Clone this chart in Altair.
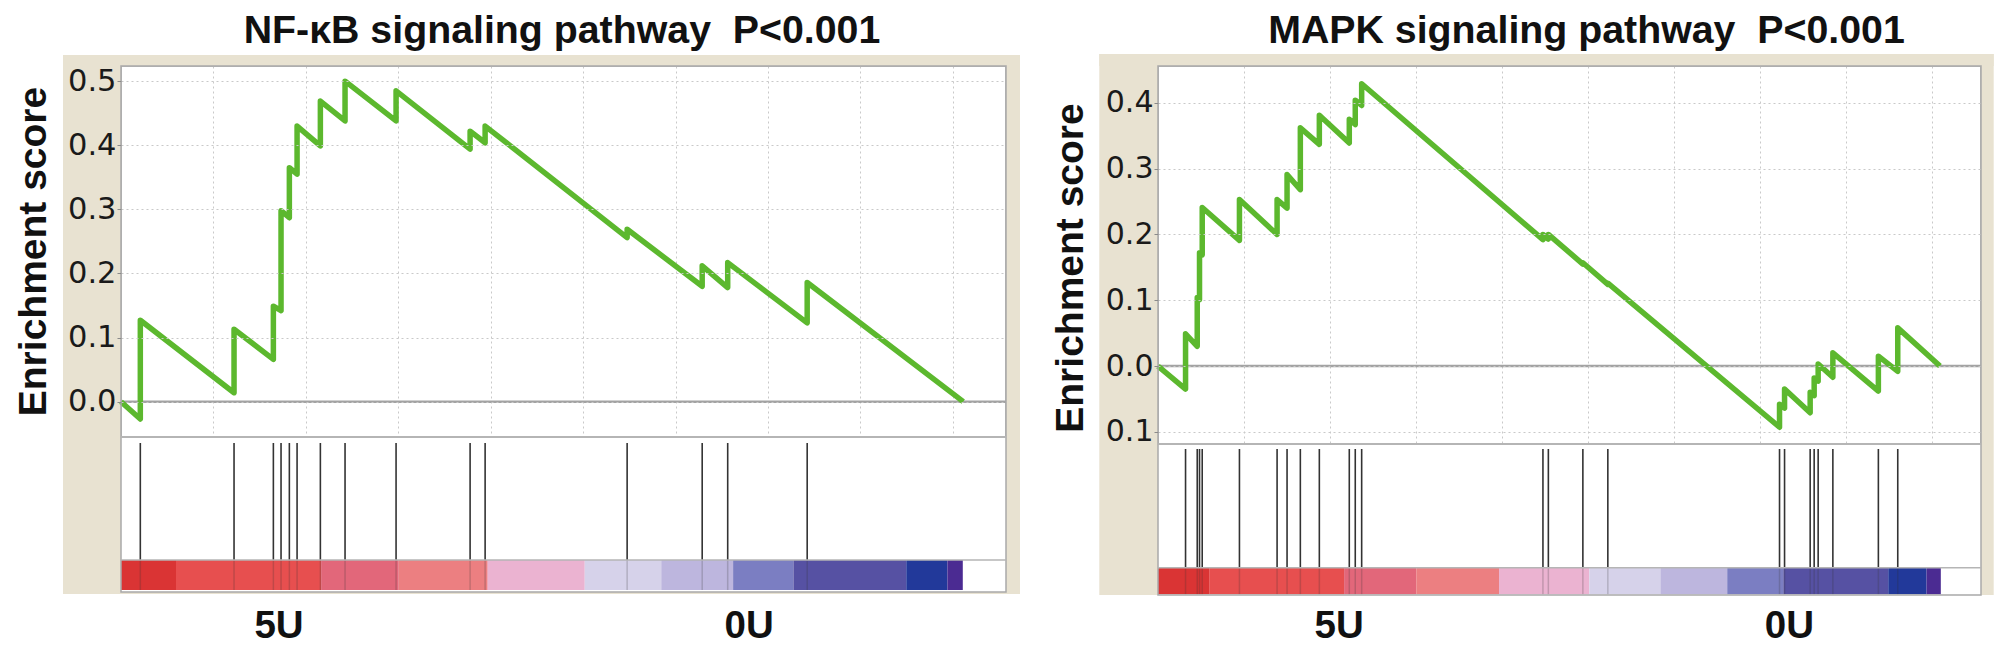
import altair as alt
import pandas as pd

# ------------------------------------------------------------------ data
nf_title = "NF-κB signaling pathway \u00a0P<0.001"
mk_title = "MAPK signaling pathway \u00a0P<0.001"

# gene ranks of the pathway hits and running enrichment score just before / after each hit
nf_hits = [418, 2446, 3297, 3463, 3643, 3810, 4314, 4848, 5952, 7554, 7879, 10952, 12576, 13128, 14848]
nf_es_before = [-0.027, 0.014, 0.066, 0.142, 0.287, 0.355, 0.399, 0.438, 0.438, 0.394, 0.404, 0.256, 0.180, 0.178, 0.123]
nf_es_after = [0.127, 0.113, 0.149, 0.298, 0.365, 0.430, 0.469, 0.500, 0.485, 0.422, 0.430, 0.269, 0.212, 0.217, 0.186]
nf_end = 18225

mk_hits = [641, 913, 966, 1029, 1895, 2771, 3003, 3312, 3754, 4451, 4590, 4739,
           8957, 9083, 9886, 10467, 14462, 14579, 15175, 15268, 15361, 15703, 16762, 17213]
mk_es_before = [-0.035, 0.030, 0.101, 0.169, 0.191, 0.200, 0.240, 0.268, 0.337, 0.339, 0.367, 0.396,
                0.192, 0.193, 0.155, 0.124, -0.093, -0.064, -0.071, -0.045, -0.023, -0.017, -0.038, -0.008]
mk_es_after = [0.049, 0.104, 0.172, 0.241, 0.253, 0.253, 0.291, 0.362, 0.381, 0.375, 0.404, 0.429,
               0.200, 0.200, 0.157, 0.126, -0.058, -0.035, -0.040, -0.018, 0.003, 0.020, 0.015, 0.058]
mk_end = 18195

# ranked-list colour bar (segment edges in rank units) and its colours
bar_edges = [0, 1190, 4330, 6010, 7935, 10035, 11690, 13245, 14550, 16992, 17883, 18215]
bar_colors = ["#da3434", "#e74f4f", "#e2677a", "#ec7f81", "#ebb3d1", "#d6d2ea",
              "#bdb6de", "#7b7ec2", "#5651a3", "#22399a", "#4b2b92"]

group_labels = ["5U", "0U"]
nf_label_ranks = [3420, 13593]
mk_label_ranks = [4217, 14693]

nf_yticks = [0.0, 0.1, 0.2, 0.3, 0.4, 0.5]
mk_yticks = [-0.1, 0.0, 0.1, 0.2, 0.3, 0.4]
x_grid = [2000, 4000, 6000, 8000, 10000, 12000, 14000, 16000, 18000]
x_max = 19150

# ------------------------------------------------------------------ styles
GREEN = "#5cb82e"
BEIGE = "#e8e2d1"
FRAME = "#a9a9a9"
GRID = "#c9c9c9"
BOLD = "Liberation Sans"


def es_table(hits, before, after, end):
    rows = [{"rank": 0, "es": 0.0}]
    for r, b, a in zip(hits, before, after):
        rows.append({"rank": r, "es": b})
        rows.append({"rank": r, "es": a})
    rows.append({"rank": end, "es": 0.0})
    df = pd.DataFrame(rows)
    df["i"] = range(len(df))
    return df


def panel(title, hits, before, after, end, label_ranks, yticks, ydomain,
          W, H, g, title_dx, axis_title_y, label_size):
    one = pd.DataFrame({"k": [0]})
    ttl = pd.DataFrame({"t": [title]})
    xs = alt.Scale(domain=[0, x_max], nice=False, zero=False)
    ys = alt.Scale(domain=ydomain, nice=False, zero=False)
    x_axis = alt.Axis(values=x_grid, grid=True, gridColor=GRID, gridDash=[2, 3],
                      labels=False, ticks=False, domain=False, title=None)
    y_axis = alt.Axis(values=yticks, grid=True, gridColor=GRID, gridDash=[2, 3],
                      labelExpr="format(abs(datum.value), '.1f')",
                      labelFont="DejaVu Sans", labelFontSize=label_size,
                      labelColor="#1a1a1a", tickColor="#8a8a8a", tickSize=4,
                      labelPadding=1, domain=False,
                      title="Enrichment score", titleFont=BOLD, titleFontWeight="bold",
                      titleFontSize=39, titleColor="#111111", titleBaseline="alphabetic",
                      titleAlign="center", titleX=-76, titleY=axis_title_y, zindex=1)

    # beige frame strips around the plot
    strips = []
    for (x0, x1, y0, y1) in [(g["bl"], 0, g["bt"], g["bb"]),
                             (g["bl"], W + g["br"], g["bt"], 0),
                             (W, W + g["br"], g["bt"], g["bb"]),
                             (0, W, g["fb"], g["bb"])]:
        strips.append(alt.Chart(one).mark_rect(color=BEIGE).encode(
            x=alt.value(x0), x2=alt.value(x1), y=alt.value(y0), y2=alt.value(y1)))

    es = es_table(hits, before, after, end)
    hit_df = pd.DataFrame({"rank": hits})
    bars = pd.DataFrame({"start": bar_edges[:-1], "stop": bar_edges[1:],
                         "seg": list(range(len(bar_colors)))})
    labels = pd.DataFrame({"rank": label_ranks, "text": group_labels})

    colour_bar = alt.Chart(bars).mark_rect().encode(
        x=alt.X("start:Q", scale=xs, axis=x_axis), x2="stop:Q",
        y=alt.value(g["bar_top"]), y2=alt.value(g["bar_bot"]),
        color=alt.Color("seg:O", scale=alt.Scale(domain=list(range(len(bar_colors))),
                                                 range=bar_colors), legend=None))
    faint_hits = alt.Chart(hit_df).mark_rule(color="#333333", strokeWidth=1.5, opacity=0.22).encode(
        x=alt.X("rank:Q", scale=xs, axis=x_axis),
        y=alt.value(g["bar_top"]), y2=alt.value(g["bar_bot"]))
    hit_rules = alt.Chart(hit_df).mark_rule(color="#333333", strokeWidth=1.6).encode(
        x=alt.X("rank:Q", scale=xs, axis=x_axis),
        y=alt.value(g["hit_top"]), y2=alt.value(g["bar_top"]))
    zero = alt.Chart(one).mark_rule(color="#a3a3a3", strokeWidth=2.5).encode(
        y=alt.Y("k:Q", scale=ys, axis=y_axis))
    line = alt.Chart(es).mark_line(color=GREEN, strokeWidth=5.5, strokeJoin="round").encode(
        x=alt.X("rank:Q", scale=xs, axis=x_axis),
        y=alt.Y("es:Q", scale=ys, axis=y_axis),
        order="i:Q")
    frame = alt.Chart(one).mark_rect(fillOpacity=0, stroke=FRAME, strokeWidth=1.5).encode(
        x=alt.value(0), x2=alt.value(W), y=alt.value(0), y2=alt.value(g["fb"]))
    bar_line = alt.Chart(one).mark_rule(color="#b5b5b5", strokeWidth=1.5).encode(
        x=alt.value(0), x2=alt.value(W), y=alt.value(g["bar_top"]))
    sep = alt.Chart(one).mark_rule(color="#b5b5b5", strokeWidth=2).encode(
        x=alt.value(0), x2=alt.value(W), y=alt.value(H))
    text = alt.Chart(labels).mark_text(font=BOLD, fontWeight="bold", fontSize=38.5,
                                       color="#111111", baseline="middle", align="center").encode(
        x=alt.X("rank:Q", scale=xs, axis=x_axis), y=alt.value(g["lab_y"]), text="text:N")
    head = alt.Chart(ttl).mark_text(font=BOLD, fontWeight="bold", fontSize=39.3,
                                    color="#111111", baseline="alphabetic", align="center").encode(
        x=alt.value(W / 2 + title_dx), y=alt.value(-23), text="t:N")

    return alt.layer(*strips, colour_bar, faint_hits, hit_rules, zero, line,
                     frame, bar_line, sep, text, head).properties(width=W, height=H)


nf_geom = {"hit_top": 377, "bar_top": 494, "bar_bot": 524, "fb": 526,
           "bl": -58, "bt": -11, "br": 14, "bb": 528, "lab_y": 559.5}
mk_geom = {"hit_top": 383, "bar_top": 501.7, "bar_bot": 528.3, "fb": 529,
           "bl": -58.7, "bt": -12, "br": 12.7, "bb": 529, "lab_y": 560}

left = panel(nf_title, nf_hits, nf_es_before, nf_es_after, nf_end, nf_label_ranks,
             nf_yticks, [-0.0551, 0.5237], 885, 371, nf_geom, -1.5, 185, 30.5)
right = panel(mk_title, mk_hits, mk_es_before, mk_es_after, mk_end, mk_label_ranks,
              mk_yticks, [-0.1185, 0.456], 823, 378, mk_geom, 17, 201.5, 30)

chart = alt.hconcat(left, right, spacing=152).properties(
    bounds="flush", padding={"left": 5, "top": 3, "right": 0, "bottom": 0},
    background="white"
).configure_view(stroke=FRAME, strokeWidth=1.5)

chart.save("out.html", embed_options={"renderer": "svg", "actions": False})
